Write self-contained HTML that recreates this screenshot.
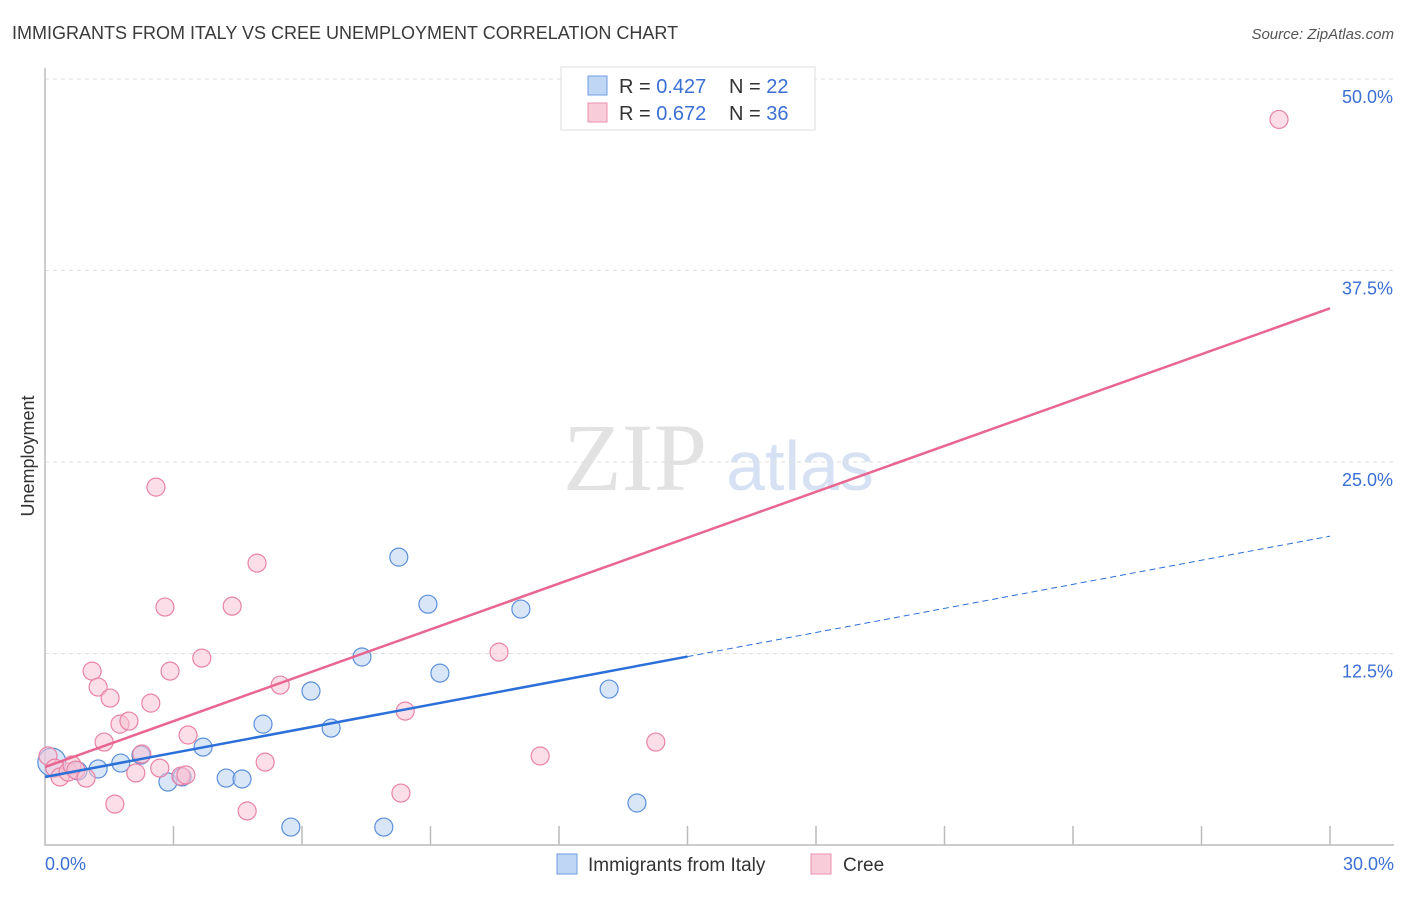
<!DOCTYPE html>
<html><head><meta charset="utf-8"><style>
body{margin:0;background:#fff;font-family:"Liberation Sans",sans-serif;}
</style></head><body>
<svg width="1406" height="892" xmlns="http://www.w3.org/2000/svg" font-family="Liberation Sans, sans-serif">
<text x="12" y="39" font-size="18" fill="#3a3a3a">IMMIGRANTS FROM ITALY VS CREE UNEMPLOYMENT CORRELATION CHART</text>
<text x="1394" y="39" font-size="15" fill="#555" text-anchor="end" font-style="italic">Source: ZipAtlas.com</text>
<g>
<text x="635" y="490" font-size="96" font-family="Liberation Serif, serif" fill="#e2e2e2" text-anchor="middle">ZIP</text>
<text x="800" y="490" font-size="70" fill="#d6e2f4" text-anchor="middle">atlas</text>
</g>
<g id="grid"></g>
<g id="axes"></g>
<g id="marks"></g>
<text transform="translate(34,456) rotate(-90)" font-size="18" fill="#333" text-anchor="middle">Unemployment</text>
<g>
<rect x="561" y="67" width="254" height="63" fill="#fff" stroke="#ddd"/>
<rect x="588" y="76" width="19" height="19" fill="#c0d6f5" stroke="#6f9ee0"/>
<rect x="588" y="103" width="19" height="19" fill="#f9ccd9" stroke="#ea8fac"/>
<text x="619" y="93" font-size="20" fill="#333">R = <tspan fill="#3b6fd4">0.427</tspan></text>
<text x="729" y="93" font-size="20" fill="#333">N = <tspan fill="#3b6fd4">22</tspan></text>
<text x="619" y="120" font-size="20" fill="#333">R = <tspan fill="#3b6fd4">0.672</tspan></text>
<text x="729" y="120" font-size="20" fill="#333">N = <tspan fill="#3b6fd4">36</tspan></text>
</g>
<g>
<rect x="557" y="854" width="20" height="20" fill="#c0d6f5" stroke="#6f9ee0"/>
<text x="588" y="871" font-size="19" fill="#333">Immigrants from Italy</text>
<rect x="811" y="854" width="20" height="20" fill="#f9ccd9" stroke="#ea8fac"/>
<text x="843" y="871" font-size="19" fill="#333">Cree</text>
</g>
</svg>
<script>
const yTicks=[12.5,25.0,37.5,50.0];
const yTickLabels=["12.5%","25.0%","37.5%","50.0%"];
const xTickVals=[0,3,6,9,12,15,18,21,24,27,30];
const italyX=[0.16,0.77,1.24,1.77,2.24,2.87,3.20,3.69,4.23,4.60,5.09,5.74,6.21,6.68,7.40,7.91,8.26,8.94,9.22,11.11,13.17,13.82];
const italyY=[5.41,4.83,4.96,5.35,5.87,4.11,4.44,6.39,4.37,4.31,7.89,1.17,10.05,7.63,12.27,1.17,18.79,15.72,11.22,15.40,10.18,2.74];
const creeX=[0.07,0.23,0.35,0.54,0.63,0.72,0.96,1.10,1.24,1.38,1.52,1.63,1.75,1.96,2.12,2.26,2.47,2.59,2.68,2.80,2.92,3.17,3.29,3.34,3.66,4.37,4.72,4.95,5.14,5.49,8.31,8.41,10.60,11.56,14.26,28.81];
const creeY=[5.81,5.02,4.44,4.76,5.22,4.89,4.37,11.35,10.31,6.72,9.59,2.67,7.89,8.09,4.70,5.94,9.26,23.36,5.02,15.53,11.35,4.50,4.57,7.18,12.20,15.59,2.22,18.40,5.41,10.44,3.39,8.74,12.59,5.81,6.72,47.36];
const italyTrend=[4.44,20.16];
const creeTrend=[5.09,35.03];
const italySolidEnd=15;
const NS="http://www.w3.org/2000/svg";
const X=v=>45+v/30*1285, Y=v=>845-v/50*766;
function mk(t,a,p){const e=document.createElementNS(NS,t);for(const k in a)e.setAttribute(k,a[k]);p.appendChild(e);return e;}
const grid=document.getElementById('grid'),axes=document.getElementById('axes'),marks=document.getElementById('marks');
yTicks.forEach((v,i)=>{
 const l=mk('line',{x1:45,x2:1394,y1:Y(v),y2:Y(v),stroke:'#ddd','stroke-dasharray':'4,4'},grid);
 
 
 const t=mk('text',{x:1393,y:Y(v)+24,'font-size':18,fill:'#3b6fd4','text-anchor':'end'},axes);
 t.textContent=yTickLabels[i];
 
 
});
const ax=mk('path',{d:'M45,68 V845 H1394',fill:'none',stroke:'#bbb','stroke-width':1.5},axes);


xTickVals.forEach(v=>{if(v===0)return;
 const l=mk('line',{x1:X(v),x2:X(v),y1:826,y2:845,stroke:'#bbb','stroke-width':1.5},axes);
 
 
});
[[0,'0.0%','start',45],[30,'30.0%','end',1394]].forEach(([v,s,a,x])=>{
 const t=mk('text',{x:x,y:870,'font-size':18,fill:'#3b6fd4','text-anchor':a},axes);t.textContent=s;
 
 
});
function pts(xs,ys,fill,stroke,name){xs.forEach((x,i)=>{
 const c=mk('circle',{cx:X(x),cy:Y(ys[i]),r:i===0&&name==='italy-point'?14:9,fill:fill,'fill-opacity':0.55,stroke:stroke,'stroke-width':1.2},marks);
 
 
});}
pts(italyX,italyY,'#b9d1f3','#5b8fdc','italy-point');
pts(creeX,creeY,'#f8c3d3','#e983a5','cree-point');
const ti=x=>italyTrend[0]+(italyTrend[1]-italyTrend[0])*x/30, tc=x=>creeTrend[0]+(creeTrend[1]-creeTrend[0])*x/30;
let l=mk('line',{x1:X(0),y1:Y(ti(0)),x2:X(italySolidEnd),y2:Y(ti(italySolidEnd)),stroke:'#2b6fd8','stroke-width':2.5},marks);


l=mk('line',{x1:X(italySolidEnd),y1:Y(ti(italySolidEnd)),x2:X(30),y2:Y(ti(30)),stroke:'#2b6fd8','stroke-width':1,'stroke-dasharray':'6,4'},marks);


l=mk('line',{x1:X(0),y1:Y(tc(0)),x2:X(30),y2:Y(tc(30)),stroke:'#e8668f','stroke-width':2.5},marks);


</script>
</body></html>
